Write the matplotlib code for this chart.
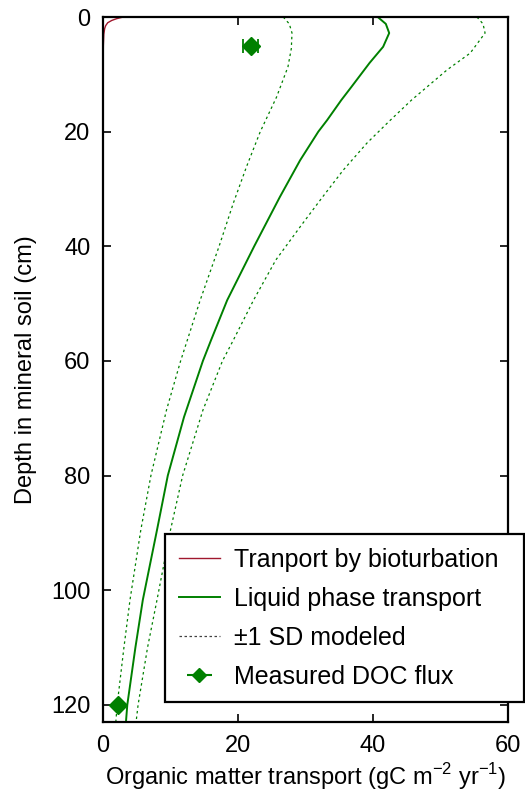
import matplotlib
matplotlib.use("Agg")
import matplotlib.pyplot as plt
from matplotlib.lines import Line2D

plt.rcParams['font.family'] = ['Liberation Sans', 'DejaVu Sans']

# Modelled liquid-phase transport profile (depth in cm, flux in gC m-2 yr-1)
liq_depth = [0, 1.2, 2.8, 5.2, 8, 12.2, 14.5, 18, 20, 25, 31.4, 40, 49.4, 56.4,
             60, 69.8, 80, 89.5, 101.7, 110, 120, 123]
liquid = [40.7, 41.9, 42.4, 41.5, 39.5, 36.8, 35.3, 33.2, 31.9, 29.2, 26.2, 22.4,
          18.4, 16.0, 14.8, 12.0, 9.6, 8.0, 5.9, 4.8, 3.6, 3.4]

# +1 SD envelope
up_depth = [0, 1.2, 2.8, 6.3, 9.2, 12.2, 14.5, 18.3, 22, 26.7, 31.6, 36.3, 42.4,
            49.4, 56.4, 60, 68.6, 80, 89.5, 101.7, 110, 120, 123]
upper_sd = [55.4, 56.3, 56.6, 54.4, 51.0, 48.0, 45.7, 42.3, 39.1, 35.6, 32.4,
            29.4, 25.6, 22.3, 19.3, 17.7, 14.8, 11.8, 10.0, 8.0, 6.6, 5.2, 4.9]

# -1 SD envelope
lo_depth = [0, 1.2, 2.8, 5.5, 8.7, 14, 20, 26, 32.5, 40, 49.4, 60, 68.6, 80,
            89.5, 101.7, 110, 120, 123]
lower_sd = [26.7, 27.6, 28.0, 27.9, 27.4, 25.7, 23.3, 21.3, 19.3, 17.2, 14.4,
            11.5, 9.4, 7.1, 5.6, 4.0, 3.1, 2.1, 1.9]

# Bioturbation transport, confined to the top few centimetres
bio_depth = [0, 0.3, 0.6, 1.0, 1.5, 2.0, 3.0, 5.0, 10.0, 123]
bioturbation = [3.0, 2.0, 1.3, 0.7, 0.4, 0.25, 0.12, 0.05, 0.0, 0.0]

# Measured DOC flux
doc_depth = [5, 120]
doc_flux = [21.9, 2.2]
doc_err = [1.1, 0.0]

green = '#008000'
red = '#a0182e'
fs = 17

fig = plt.figure(figsize=(5.25, 7.94), dpi=100)
ax = fig.add_axes([103/525, 1 - 722/794, 405/525, 705/794])

ax.plot(bioturbation, bio_depth, color=red, lw=1.0)
ax.plot(liquid, liq_depth, color=green, lw=1.4)
ax.plot(upper_sd, up_depth, color=green, lw=0.9, ls=(0, (2, 2.5)))
ax.plot(lower_sd, lo_depth, color=green, lw=0.9, ls=(0, (2, 2.5)))
for xv, yv, ev in zip(doc_flux, doc_depth, doc_err):
    ax.errorbar([xv], [yv], xerr=[ev], fmt='D', color=green, ms=9,
                capsize=5 if ev > 0 else 0, elinewidth=1.3, capthick=1.3)

ax.set_xlim(0, 60)
ax.set_ylim(123, 0)
ax.set_xticks([0, 20, 40, 60])
ax.set_yticks([0, 20, 40, 60, 80, 100, 120])
ax.tick_params(direction='in', top=True, right=True, labelsize=fs, length=6, width=1.2, pad=9)
for s in ax.spines.values():
    s.set_linewidth(1.6)

ax.set_xlabel('Organic matter transport (gC m$^{\\mathregular{-2}}$ yr$^{\\mathregular{-1}}$)',
              fontsize=fs, labelpad=3)
ax.set_ylabel('Depth in mineral soil (cm)', fontsize=fs, labelpad=10)

handles = [
    Line2D([], [], color=red, lw=1.0),
    Line2D([], [], color=green, lw=1.4),
    Line2D([], [], color='0.25', lw=0.9, ls=(0, (2, 2))),
    ax.errorbar([], [], xerr=[], fmt='D', color=green, ms=7, capsize=3.5),
]
labels = ['Tranport by bioturbation', 'Liquid phase transport', '±1 SD modeled', 'Measured DOC flux']
leg = ax.legend(handles, labels, loc='lower left', bbox_to_anchor=(0.153, 0.028, 0.887, 0.242),
                mode='expand', fontsize=18, frameon=True, fancybox=False, framealpha=1,
                edgecolor='black', borderaxespad=0, handlelength=1.65, handletextpad=0.55,
                labelspacing=0.6, borderpad=0.55)
leg.get_frame().set_linewidth(1.6)

fig.savefig('out.png', dpi=100)
